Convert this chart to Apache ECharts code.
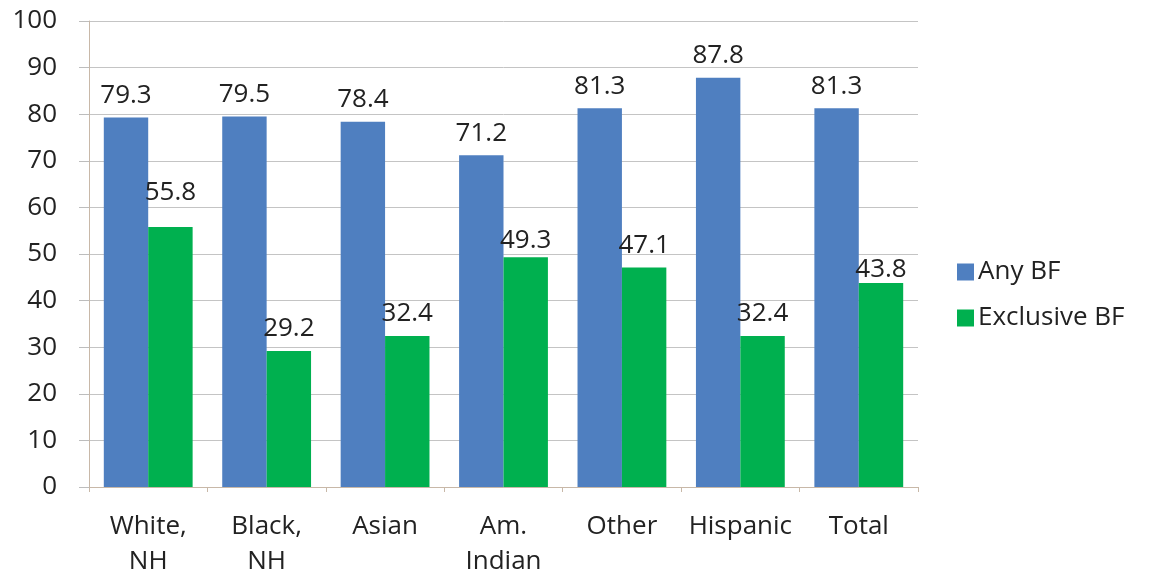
<!DOCTYPE html>
<html>
<head>
<meta charset="utf-8">
<script src="https://cdn.jsdelivr.net/npm/echarts@6/dist/echarts.min.js"></script>
<style>
  html, body { margin: 0; padding: 0; background: #fff; }
  #chart { width: 1149px; height: 571px; }
</style>
</head>
<body>
<div id="chart"></div>
<script>
// Breastfeeding rates by race / ethnicity (%)
const categories = ['White,\nNH', 'Black,\nNH', 'Asian', 'Am.\nIndian', 'Other', 'Hispanic', 'Total'];
const anyBF = [79.3, 79.5, 78.4, 71.2, 81.3, 87.8, 81.3];
const exclusiveBF = [55.8, 29.2, 32.4, 49.3, 47.1, 32.4, 43.8];
const yTicks = { min: 0, max: 100, interval: 10 };

const FONT = '"Open Sans", "Liberation Sans", sans-serif';
const TEXT = '#222222';
const FS = 26;

// a few value labels sit a little higher or lower than the rest (px, + is down)
const exclusiveLabelShift = { 0: -12, 3: 5, 6: 9 };

const valueLabel = {
  show: true, position: 'top', distance: 9, fontSize: FS, color: TEXT, fontFamily: FONT,
  formatter: p => Number(p.value).toFixed(1)
};

const chart = echarts.init(document.getElementById('chart'));
chart.setOption({
  animation: false,
  backgroundColor: '#ffffff',
  textStyle: { fontFamily: FONT },
  grid: { left: 89, right: 231, top: 21, bottom: 84, outerBoundsMode: 'none', containLabel: false },
  legend: {
    orient: 'vertical',
    left: 952,
    top: 254,
    itemWidth: 17,
    itemHeight: 17,
    itemGap: 20,
    icon: 'rect',
    textStyle: { fontFamily: FONT, fontSize: FS, color: TEXT, padding: [0, 0, 0, -1] },
    data: ['Any BF', 'Exclusive BF']
  },
  xAxis: {
    type: 'category',
    data: categories,
    axisLine: { lineStyle: { color: '#c8b8a8', width: 1 } },
    axisTick: { show: true, length: 5, lineStyle: { color: '#c8b8a8' } },
    axisLabel: { interval: 0, hideOverlap: false, fontSize: FS, color: TEXT, margin: 22, lineHeight: 35, fontFamily: FONT }
  },
  yAxis: {
    type: 'value',
    min: yTicks.min,
    max: yTicks.max,
    interval: yTicks.interval,
    axisLine: { show: true, lineStyle: { color: '#c8b8a8', width: 1 } },
    axisTick: { show: true, length: 10, lineStyle: { color: '#bdbdbd' } },
    splitLine: { show: true, lineStyle: { color: '#c4c4c4', width: 1 } },
    axisLabel: { fontSize: FS, color: TEXT, margin: 32, fontFamily: FONT }
  },
  series: [
    {
      name: 'Any BF',
      type: 'bar',
      data: anyBF,
      barGap: '0%',
      barCategoryGap: '25%',
      itemStyle: { color: '#4f7fc0' },
      label: valueLabel
    },
    {
      name: 'Exclusive BF',
      type: 'bar',
      data: exclusiveBF,
      barGap: '0%',
      barCategoryGap: '25%',
      itemStyle: { color: '#00b04f' },
      label: valueLabel,
      labelLayout: p => (p.dataIndex in exclusiveLabelShift ? { dy: exclusiveLabelShift[p.dataIndex] } : {})
    }
  ]
});
</script>
</body>
</html>
